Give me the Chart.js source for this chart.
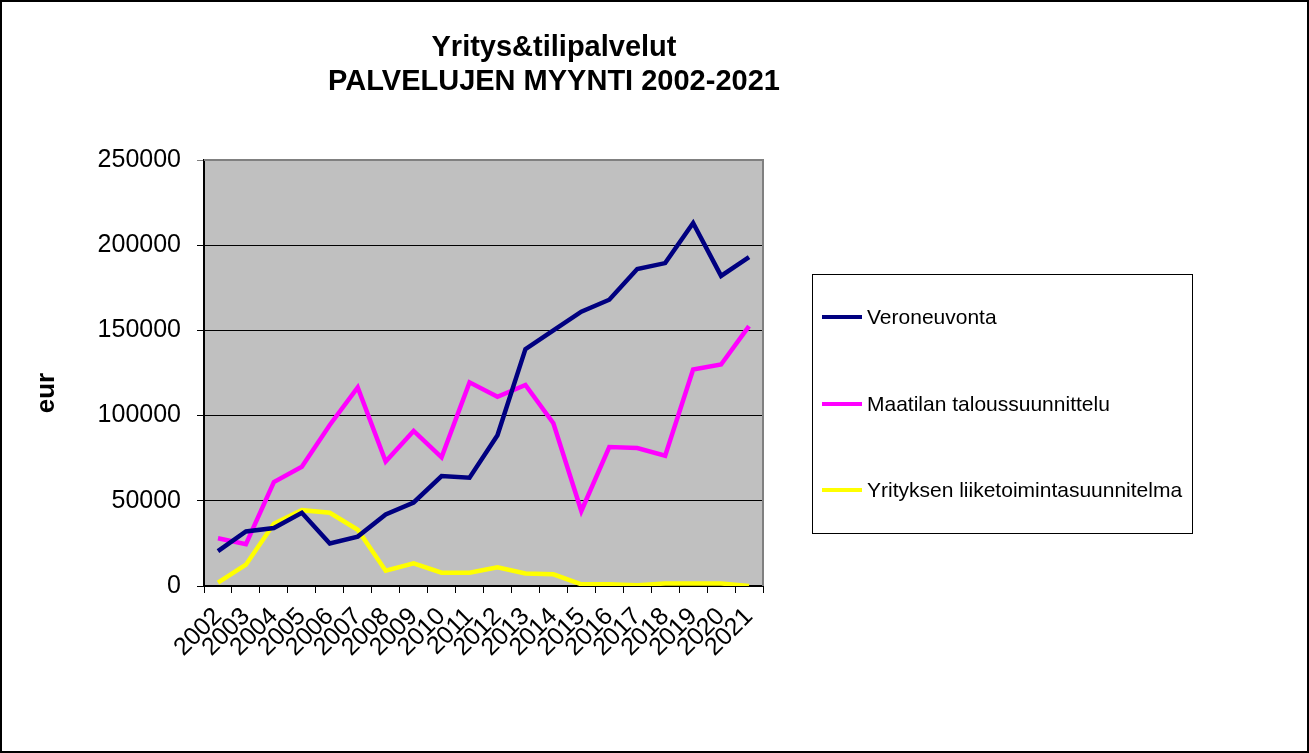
<!DOCTYPE html>
<html>
<head>
<meta charset="utf-8">
<script src="https://cdn.jsdelivr.net/npm/chart.js@4/dist/chart.umd.min.js"></script>
<style>
  html, body { margin: 0; padding: 0; background: #fff; }
  #wrap { width: 1309px; height: 753px; }
</style>
</head>
<body>
<div id="wrap"><canvas id="c" width="1309" height="753"></canvas></div>
<script>
const years = ["2002","2003","2004","2005","2006","2007","2008","2009","2010","2011","2012","2013","2014","2015","2016","2017","2018","2019","2020","2021"];
const veroneuvonta = [20500,32000,34000,43000,25000,29000,42000,49000,64500,63500,88500,139000,150000,161000,168000,186000,189500,213000,182000,193000];
const maatilan = [28000,24500,61000,70000,94500,116500,73000,91000,75500,119500,111000,118000,95500,44000,81500,81000,76500,127000,130000,152500];
const yrityksen = [2000,12500,36500,44500,43000,33000,9000,13300,7800,7800,11000,7400,6850,1000,1000,500,1500,1500,1500,0];
const seriesNames = ["Veroneuvonta","Maatilan taloussuunnittelu","Yrityksen liiketoimintasuunnitelma"];
const seriesColors = ["#000080","#FF00FF","#FFFF00"];
const yTicks = [0,50000,100000,150000,200000,250000];
const titleLines = ["Yritys&tilipalvelut","PALVELUJEN MYYNTI 2002-2021"];
const yAxisTitle = "eur";

const FONT = "'Liberation Sans', Arial, sans-serif";

const decorPlugin = {
  id: 'decor',
  beforeDraw(chart) {
    const { ctx, chartArea: a } = chart;
    ctx.save();
    ctx.fillStyle = '#fff';
    ctx.fillRect(0, 0, chart.width, chart.height);
    ctx.fillStyle = '#C0C0C0';
    ctx.fillRect(a.left, a.top, a.right - a.left, a.bottom - a.top);
    ctx.restore();
  },
  afterDatasetsDraw(chart) {
    const { ctx, chartArea: a } = chart;
    ctx.save();
    ctx.strokeStyle = '#808080';
    ctx.lineWidth = 2;
    ctx.beginPath();
    ctx.moveTo(a.left, a.top);
    ctx.lineTo(a.right, a.top);
    ctx.lineTo(a.right, a.bottom);
    ctx.stroke();
    ctx.restore();
  },
  afterDraw(chart) {
    const { ctx } = chart;
    ctx.save();
    ctx.strokeStyle = '#000';
    ctx.lineWidth = 2;
    ctx.strokeRect(1, 1, chart.width - 2, chart.height - 2);
    ctx.fillStyle = '#000';
    ctx.textAlign = 'center';
    ctx.textBaseline = 'middle';
    ctx.font = 'bold 29px ' + FONT;
    ctx.fillText(titleLines[0], 554, 48);
    ctx.fillText(titleLines[1], 554, 82);
    ctx.save();
    ctx.translate(47, 393);
    ctx.rotate(-Math.PI / 2);
    ctx.font = 'bold 26px ' + FONT;
    ctx.fillText(yAxisTitle, 0, 0);
    ctx.restore();
    const lx = 812, ly = 274, lw = 380, lh = 259;
    ctx.fillStyle = '#fff';
    ctx.fillRect(lx, ly, lw, lh);
    ctx.strokeStyle = '#000';
    ctx.lineWidth = 1;
    ctx.strokeRect(lx + 0.5, ly + 0.5, lw, lh);
    const rows = [317, 404, 490];
    chart.data.datasets.forEach((ds, i) => {
      const y = rows[i];
      ctx.strokeStyle = ds.borderColor;
      ctx.lineWidth = 4;
      ctx.beginPath();
      ctx.moveTo(822, y);
      ctx.lineTo(862, y);
      ctx.stroke();
      ctx.fillStyle = '#000';
      ctx.textAlign = 'left';
      ctx.textBaseline = 'middle';
      ctx.font = '21px ' + FONT;
      ctx.fillText(ds.label, 867, y + 1);
    });
    ctx.restore();
  }
};

new Chart(document.getElementById('c'), {
  type: 'line',
  data: {
    labels: years,
    datasets: [
      { label: seriesNames[0], data: veroneuvonta, borderColor: seriesColors[0] },
      { label: seriesNames[1], data: maatilan, borderColor: seriesColors[1] },
      { label: seriesNames[2], data: yrityksen, borderColor: seriesColors[2] }
    ].map(d => Object.assign(d, { borderWidth: 4.5, pointRadius: 0, tension: 0, fill: false }))
  },
  options: {
    responsive: false,
    devicePixelRatio: 1,
    animation: false,
    layout: { padding: { left: 0, top: 160, right: 546, bottom: 0 } },
    plugins: { legend: { display: false }, title: { display: false }, tooltip: { enabled: false } },
    scales: {
      x: {
        offset: true,
        grid: { offset: true, drawOnChartArea: false, drawTicks: true, tickLength: 7, color: '#000', lineWidth: 1 },
        border: { display: true, color: '#000', width: 2 },
        ticks: { autoSkip: false, minRotation: 45, maxRotation: 45, color: '#000', font: { family: FONT, size: 25 }, padding: 9 },
        afterFit(scale) { scale.height = 167; }
      },
      y: {
        min: 0, max: 250000,
        afterBuildTicks(scale) { scale.ticks = yTicks.map(v => ({ value: v })); },
        grid: {
          color: ctx => (ctx.tick && ctx.tick.value === 250000) ? '#808080' : '#000',
          lineWidth: 1, tickLength: 7, drawTicks: true
        },
        border: { display: true, color: '#000', width: 2 },
        ticks: { color: '#000', font: { family: FONT, size: 25 }, padding: 16, callback: v => String(v) },
        afterFit(scale) { scale.width = 204; }
      }
    }
  },
  plugins: [decorPlugin]
});
</script>
</body>
</html>
